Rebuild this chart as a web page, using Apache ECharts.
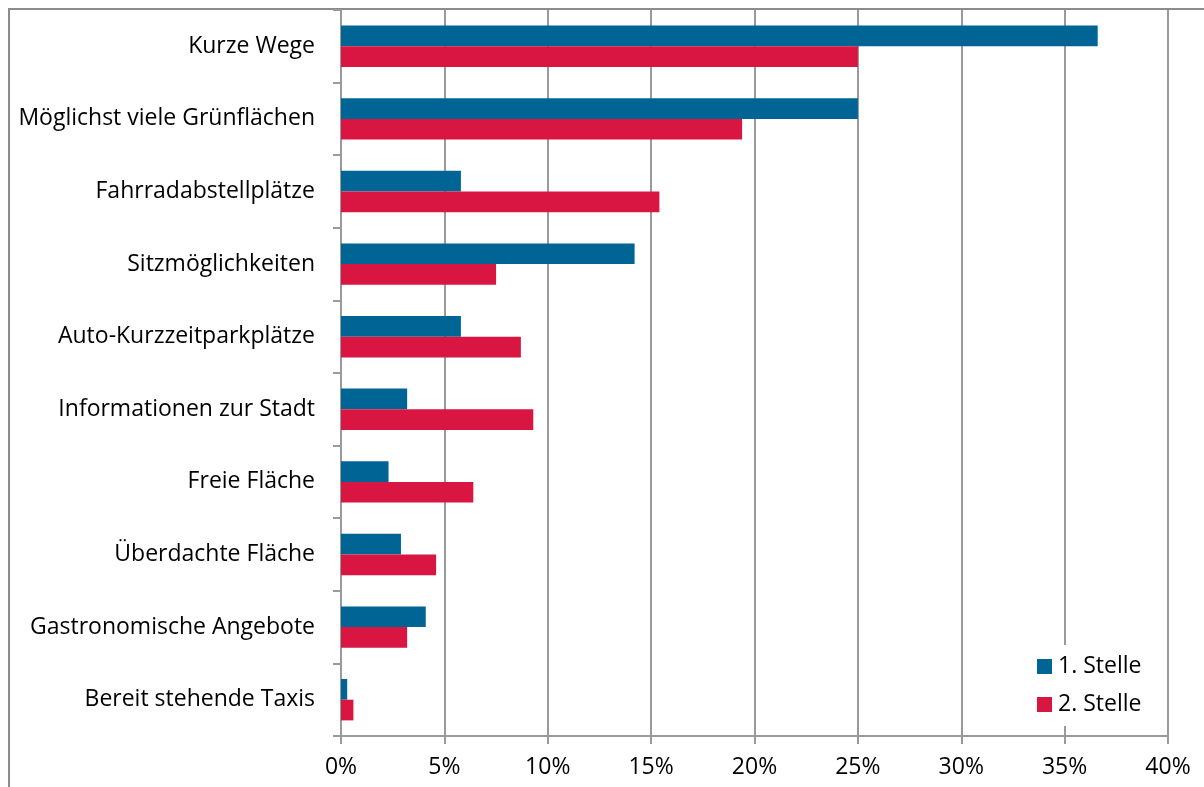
<!DOCTYPE html>
<html>
<head>
<meta charset="utf-8">
<script src="https://cdn.jsdelivr.net/npm/echarts@6/dist/echarts.min.js"></script>
<style>html,body{margin:0;padding:0;background:#fff}#c{width:1204px;height:787px}</style>
</head>
<body>
<div id="c"></div>
<script>
const categories = ["Kurze Wege","Möglichst viele Grünflächen","Fahrradabstellplätze","Sitzmöglichkeiten","Auto-Kurzzeitparkplätze","Informationen zur Stadt","Freie Fläche","Überdachte Fläche","Gastronomische Angebote","Bereit stehende Taxis"];
const seriesNames = ["1. Stelle","2. Stelle"];
const stelle1 = [36.6,25.0,5.8,14.2,5.8,3.2,2.3,2.9,4.1,0.3];
const stelle2 = [25.0,19.4,15.4,7.5,8.7,9.3,6.4,4.6,3.2,0.6];
const xTicks = [0,5,10,15,20,25,30,35,40];

const chart = echarts.init(document.getElementById('c'), null, {renderer:'canvas'});
const font = '"Open Sans", sans-serif';
const grayLine = '#9a9a9a';
chart.setOption({
  animation:false,
  backgroundColor:'#fff',
  textStyle:{fontFamily:font},
  graphic:[{type:'rect',shape:{x:9,y:9,width:1400,height:1000},style:{fill:'none',stroke:'#8c8c8c',lineWidth:2},z:-1}],
  grid:{left:341,right:36,top:10,bottom:51,containLabel:false},
  legend:{
    orient:'vertical', left:1027, top:645,
    itemWidth:15, itemHeight:15, itemGap:15, icon:'rect',
    backgroundColor:'#fff', padding:[10,8,10,10],
    textStyle:{fontSize:23,color:'#000',fontFamily:font,padding:[0,0,0,1]},
    data:seriesNames
  },
  xAxis:{
    type:'value', min:xTicks[0], max:xTicks[xTicks.length-1], interval:5,
    axisLine:{show:true,lineStyle:{color:grayLine,width:2}},
    axisTick:{show:true,length:8,lineStyle:{color:grayLine,width:2}},
    splitLine:{show:true,lineStyle:{color:grayLine,width:2}},
    axisLabel:{formatter:v=>v+'%',fontSize:23,color:'#000',margin:20,fontFamily:font}
  },
  yAxis:{
    type:'category', data:categories, inverse:true,
    axisLine:{show:true,lineStyle:{color:grayLine,width:2}},
    axisTick:{show:true,length:8,lineStyle:{color:grayLine,width:2}},
    axisLabel:{fontSize:23,color:'#000',margin:26,fontFamily:font}
  },
  series:[
    {name:seriesNames[0],type:'bar',data:stelle1,itemStyle:{color:'#006595'},barGap:'0%',barCategoryGap:'43%'},
    {name:seriesNames[1],type:'bar',data:stelle2,itemStyle:{color:'#d91642'},barGap:'0%',barCategoryGap:'43%'}
  ]
});
</script>
</body>
</html>
